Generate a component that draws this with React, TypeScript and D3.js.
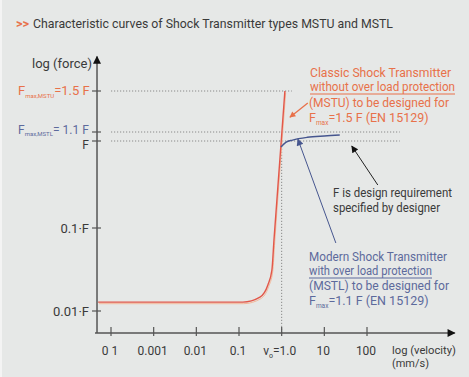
import React from "react";
import * as d3 from "d3";

// ---- data (schematic values) ----
const xTickValues = [1e-4, 1e-3, 1e-2, 1e-1, 1, 10, 100];
const xTickLabels = ["0 1", "0.001", "0.01", "0.1", "v0=1.0", "10", "100"];
const yTickValues = [1.5, 1.1, 1, 0.1, 0.01];

// Classic (MSTU) curve: velocity (mm/s) vs force (×F)
const redV = [5e-5, 0.123, 0.31, 0.475, 0.59, 0.66, 1.19];
const redF = [0.0128, 0.0128, 0.0147, 0.0206, 0.031, 0.0717, 1.5];

// Modern (MSTL) curve
const blueV = [0.96, 1.25, 1.8, 4, 10, 23];
const blueF = [0.853, 0.965, 1.01, 1.04, 1.055, 1.065];

// reference lines
const refLevels = [1.5, 1.1, 1.0];
const refEnds = [1.73, 586, 586];

const W = 469;
const H = 377;

export default function App() {
  // piecewise log (schematic) scales
  const x = d3.scaleLog().domain([1e-4, 100]).range([111, 367]);
  const y = d3
    .scaleLog()
    .domain([0.0054, 0.01, 0.1, 1, 1.1, 1.5, 1.9])
    .range([333, 311, 228, 141, 132, 91, 58]);

  const xMin = 4.7e-5;
  const xMax = 11400;
  const yMin = 0.0054;
  const yMax = 1.92;

  const line = d3
    .line<[number, number]>()
    .x((d) => x(d[0]))
    .y((d) => y(d[1]))
    .curve(d3.curveMonotoneX);

  const redPts = redV.map((v, i) => [v, redF[i]] as [number, number]);
  const bluePts = blueV.map((v, i) => [v, blueF[i]] as [number, number]);

  const orange = "#e8714a";
  const red = "#e2574a";
  const blueText = "#5d6a9c";
  const blue = "#46568f";
  const dark = "#3a3a3a";
  const axisC = "#555";
  const dotC = "#8a8a8a";
  const font = "Roboto, 'Noto Sans', sans-serif";

  const ax0 = x(xMin);
  const ay0 = y(yMin);

  return (
    <svg
      width={W}
      height={H}
      style={{ position: "absolute", left: 0, top: 0, display: "block" }}
      fontFamily={font}
    >
      <defs>
        <marker id="arrAxis" viewBox="0 0 10 10" refX="9" refY="5" markerWidth="10" markerHeight="8" markerUnits="userSpaceOnUse" orient="auto">
          <path d="M0,0 L10,5 L0,10 Z" fill="#111" />
        </marker>
        <marker id="arrBlack" viewBox="0 0 10 10" refX="9" refY="5" markerWidth="9" markerHeight="7" markerUnits="userSpaceOnUse" orient="auto">
          <path d="M0,0 L10,5 L0,10 Z" fill="#111" />
        </marker>
        <marker id="arrBlue" viewBox="0 0 10 10" refX="9" refY="5" markerWidth="9" markerHeight="7" markerUnits="userSpaceOnUse" orient="auto">
          <path d="M0,0 L10,5 L0,10 Z" fill={blue} />
        </marker>
        <marker id="arrOrange" viewBox="0 0 10 10" refX="9" refY="5" markerWidth="8" markerHeight="6" markerUnits="userSpaceOnUse" orient="auto">
          <path d="M0,0 L10,5 L0,10 Z" fill={orange} />
        </marker>
      </defs>

      <rect x={0} y={0} width={W} height={H} fill="#f4f4f4" />
      <rect x={2} y={0} width={W - 2} height={H} fill="#e6e8e7" />

      {/* title */}
      <text x={16} y={28} fontSize={13} fontWeight="bold" fill={orange} textLength={13} lengthAdjust="spacingAndGlyphs">
        {">>"}
      </text>
      <text x={33} y={28} fontSize={13.5} fill={dark} textLength={360} lengthAdjust="spacingAndGlyphs">
        Characteristic curves of Shock Transmitter types MSTU and MSTL
      </text>

      {/* reference dotted lines */}
      {refLevels.map((lv, i) => (
        <line
          key={"ref" + i}
          x1={x(1e-4)}
          x2={x(refEnds[i])}
          y1={y(lv)}
          y2={y(lv)}
          stroke={dotC}
          strokeWidth={1}
          strokeDasharray="1.2,1.8"
        />
      ))}
      <line x1={x(1)} x2={x(1)} y1={ay0} y2={y(1)} stroke={dotC} strokeWidth={1} strokeDasharray="1.2,1.8" />

      {/* axes */}
      <line x1={ax0 - 2} x2={x(xMax)} y1={ay0} y2={ay0} stroke={axisC} strokeWidth={1.5} markerEnd="url(#arrAxis)" />
      <line x1={ax0} x2={ax0} y1={ay0} y2={y(yMax)} stroke={axisC} strokeWidth={1.5} markerEnd="url(#arrAxis)" />

      {xTickValues.map((v, i) => (
        <g key={"xt" + i}>
          <line x1={x(v)} x2={x(v)} y1={ay0 - 6} y2={ay0 + 3} stroke={axisC} strokeWidth={1.2} />
          {xTickLabels[i] === "v0=1.0" ? (
            <text x={x(v) - 2} y={355} fontSize={12} fill={dark} textAnchor="middle">
              v<tspan fontSize={7} dy={3}>o</tspan>
              <tspan dy={-3}>=1.0</tspan>
            </text>
          ) : (
            <text x={x(v) - 1} y={355} fontSize={12} fill={dark} textAnchor="middle">
              {xTickLabels[i]}
            </text>
          )}
        </g>
      ))}
      <text x={392} y={354} fontSize={11} fill={dark} textLength={64} lengthAdjust="spacingAndGlyphs">log (velocity)</text>
      <text x={392} y={367} fontSize={11} fill={dark} textLength={37} lengthAdjust="spacingAndGlyphs">(mm/s)</text>

      {yTickValues.map((v, i) => (
        <line key={"yt" + i} x1={ax0 - 5} x2={ax0 + 4} y1={y(v)} y2={y(v)} stroke={axisC} strokeWidth={1.2} />
      ))}
      <text x={62} y={68} fontSize={13} fill={dark} textAnchor="middle">log (force)</text>

      <text x={18} y={95} fontSize={13} fill={orange}>
        F<tspan fontSize={6} dy={3}>max,MSTU</tspan>
        <tspan dy={-3}>=1.5 F</tspan>
      </text>
      <text x={18} y={133.5} fontSize={12} fill={blueText}>
        F<tspan fontSize={6} dy={2.5}>max,MSTL</tspan>
        <tspan dy={-2.5}>= 1.1 F</tspan>
      </text>
      <text x={89} y={149} fontSize={12} fill={dark} textAnchor="end">F</text>
      <text x={89} y={233} fontSize={13} fill={dark} textAnchor="end">0.1·F</text>
      <text x={89} y={316} fontSize={13} fill={dark} textAnchor="end">0.01·F</text>

      {/* curves */}
      <path d={line(redPts) || ""} fill="none" stroke="#f3b89a" strokeWidth={1} transform="translate(0.8,1.6)" />
      <path d={line(redPts) || ""} fill="none" stroke={red} strokeWidth={1.4} />
      <path d={line(bluePts) || ""} fill="none" stroke={blue} strokeWidth={1.4} />

      {/* annotation arrows */}
      <line x1={x(4.1)} y1={y(1.37)} x2={x(1.56)} y2={y(1.23)} stroke={orange} strokeWidth={1.3} markerEnd="url(#arrOrange)" />
      <line x1={x(18.6)} y1={y(0.066)} x2={x(2.4)} y2={y(1.02)} stroke={blue} strokeWidth={1} markerEnd="url(#arrBlue)" />
      <line x1={x(179)} y1={y(0.312)} x2={x(44)} y2={y(0.876)} stroke="#222" strokeWidth={1} markerEnd="url(#arrBlack)" />

      {/* orange annotation */}
      <g fontSize={12.5} fill={orange}>
        <text x={310} y={77} textLength={141} lengthAdjust="spacingAndGlyphs">Classic Shock Transmitter</text>
        <text x={310} y={91} textLength={145} lengthAdjust="spacingAndGlyphs">without over load protection</text>
        <line x1={310} x2={455} y1={94} y2={94} stroke={orange} strokeWidth={1} />
        <text x={309} y={107} textLength={140} lengthAdjust="spacingAndGlyphs">(MSTU) to be designed for</text>
        <text x={309} y={122}>
          F<tspan fontSize={6.5} dy={3}>max</tspan>
          <tspan dy={-3}>=1.5 F (EN 15129)</tspan>
        </text>
      </g>

      {/* black annotation */}
      <g fontSize={12.5} fill={dark}>
        <text x={333} y={197} textLength={119} lengthAdjust="spacingAndGlyphs">F is design requirement</text>
        <text x={333} y={212} textLength={107} lengthAdjust="spacingAndGlyphs">specified by designer</text>
      </g>

      {/* blue annotation */}
      <g fontSize={12.5} fill={blueText}>
        <text x={309} y={261} textLength={138} lengthAdjust="spacingAndGlyphs">Modern Shock Transmitter</text>
        <text x={309} y={275} textLength={123} lengthAdjust="spacingAndGlyphs">with over load protection</text>
        <line x1={309} x2={432} y1={278} y2={278} stroke={blueText} strokeWidth={1} />
        <text x={309} y={290} textLength={140} lengthAdjust="spacingAndGlyphs">(MSTL) to be designed for</text>
        <text x={309} y={305}>
          F<tspan fontSize={6.5} dy={3}>max</tspan>
          <tspan dy={-3}>=1.1 F (EN 15129)</tspan>
        </text>
      </g>
    </svg>
  );
}
